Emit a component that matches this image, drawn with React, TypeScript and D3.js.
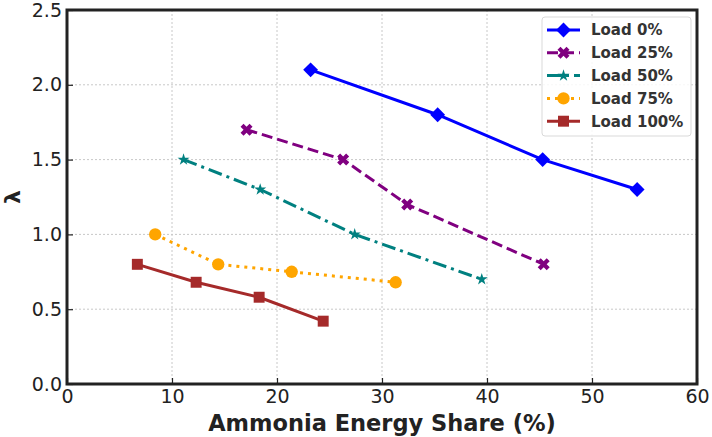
import React, { useEffect, useRef } from "react";
import * as d3 from "d3";

const seriesNames = ["Load 0%", "Load 25%", "Load 50%", "Load 75%", "Load 100%"];
const load0 = [
  { x: 23.2, y: 2.1 },
  { x: 35.3, y: 1.8 },
  { x: 45.3, y: 1.5 },
  { x: 54.3, y: 1.3 },
];
const load25 = [
  { x: 17.1, y: 1.7 },
  { x: 26.3, y: 1.5 },
  { x: 32.4, y: 1.2 },
  { x: 45.4, y: 0.8 },
];
const load50 = [
  { x: 11.1, y: 1.5 },
  { x: 18.4, y: 1.3 },
  { x: 27.4, y: 1.0 },
  { x: 39.5, y: 0.7 },
];
const load75 = [
  { x: 8.4, y: 1.0 },
  { x: 14.4, y: 0.8 },
  { x: 21.4, y: 0.75 },
  { x: 31.3, y: 0.68 },
];
const load100 = [
  { x: 6.7, y: 0.8 },
  { x: 12.3, y: 0.68 },
  { x: 18.3, y: 0.58 },
  { x: 24.4, y: 0.42 },
];
const xTicks = [0, 10, 20, 30, 40, 50, 60];
const yTicks = [0, 0.5, 1.0, 1.5, 2.0, 2.5];

const styles = [
  { color: "#0000ff", dash: null, symbol: d3.symbolSquare, size: 110, rot: 45 },
  { color: "#800080", dash: "11,5", symbol: d3.symbolCross, size: 90, rot: 45 },
  { color: "#008080", dash: "14,5,3,5", symbol: d3.symbolStar, size: 45, rot: 0 },
  { color: "#ffa500", dash: "3,5", symbol: d3.symbolCircle, size: 120, rot: 0 },
  { color: "#a52a2a", dash: null, symbol: d3.symbolSquare, size: 120, rot: 0 },
];

const App = () => {
  const ref = useRef<SVGSVGElement>(null);

  useEffect(() => {
    drawChart();
  }, []);

  const drawChart = () => {
    const svg = d3.select(ref.current);
    svg.selectAll("*").remove();

    const left = 67, right = 697, top = 10, bottom = 384;
    const x = d3.scaleLinear().domain([0, 60]).range([left, right]);
    const y = d3.scaleLinear().domain([0, 2.5]).range([bottom, top]);
    const all = [load0, load25, load50, load75, load100];

    // grid
    const grid = svg.append("g");
    grid.selectAll(".gx").data(xTicks).enter().append("line")
      .attr("x1", (d) => x(d)).attr("x2", (d) => x(d))
      .attr("y1", top).attr("y2", bottom)
      .attr("stroke", "#c8c8c8").attr("stroke-width", 1).attr("stroke-dasharray", "2,2");
    grid.selectAll(".gy").data(yTicks).enter().append("line")
      .attr("y1", (d) => y(d)).attr("y2", (d) => y(d))
      .attr("x1", left).attr("x2", right)
      .attr("stroke", "#c8c8c8").attr("stroke-width", 1).attr("stroke-dasharray", "2,2");

    // series
    const line = d3.line<{ x: number; y: number }>().x((d) => x(d.x)).y((d) => y(d.y));
    all.forEach((data, i) => {
      const s = styles[i];
      const g = svg.append("g");
      g.append("path")
        .attr("d", line(data))
        .attr("fill", "none")
        .attr("stroke", s.color)
        .attr("stroke-width", 3)
        .attr("stroke-dasharray", s.dash);
      g.selectAll("path.m").data(data).enter().append("path")
        .attr("class", "m")
        .attr("d", d3.symbol().type(s.symbol).size(s.size)())
        .attr("fill", s.color)
        .attr("transform", (d) => `translate(${x(d.x)},${y(d.y)}) rotate(${s.rot})`);
    });

    // axes
    const xAxis = d3.axisBottom(x).tickValues(xTicks).tickSizeInner(-6).tickSizeOuter(0).tickPadding(10)
      .tickFormat(d3.format("d"));
    const yAxis = d3.axisLeft(y).tickValues(yTicks).tickSizeInner(-6).tickSizeOuter(0).tickPadding(10)
      .tickFormat(d3.format(".1f"));
    const gx = svg.append("g").attr("transform", `translate(0,${bottom})`).call(xAxis);
    const gy = svg.append("g").attr("transform", `translate(${left},0)`).call(yAxis);
    [gx, gy].forEach((g) => {
      g.select(".domain").remove();
      g.selectAll(".tick line").attr("stroke", "#222").attr("stroke-width", 1.2);
      g.selectAll(".tick text")
        .attr("font-family", "DejaVu Sans")
        .attr("font-size", 19)
        .attr("fill", "#222");
    });
    gx.selectAll(".tick text").attr("dy", "0.85em").attr("y", 3);
    gy.selectAll(".tick text").attr("x", -5);

    // frame
    svg.append("rect")
      .attr("x", left).attr("y", top)
      .attr("width", right - left).attr("height", bottom - top)
      .attr("fill", "none").attr("stroke", "#222").attr("stroke-width", 3);

    // labels
    svg.append("text")
      .attr("x", (left + right) / 2).attr("y", 431)
      .attr("text-anchor", "middle")
      .attr("font-family", "DejaVu Sans").attr("font-weight", "bold").attr("font-size", 22.5)
      .attr("fill", "#222")
      .text("Ammonia Energy Share (%)");
    svg.append("text")
      .attr("transform", `translate(20,${(top + bottom) / 2}) rotate(-90)`)
      .attr("text-anchor", "middle")
      .attr("font-family", "DejaVu Sans").attr("font-weight", "bold").attr("font-size", 22)
      .attr("fill", "#222")
      .text("λ");

    // legend
    const lg = svg.append("g");
    lg.append("rect")
      .attr("x", 542).attr("y", 17).attr("width", 149).attr("height", 119)
      .attr("rx", 3).attr("fill", "white").attr("fill-opacity", 0.85)
      .attr("stroke", "#d9d9d9").attr("stroke-width", 1);
    seriesNames.forEach((name, i) => {
      const s = styles[i];
      const cy = 30 + i * 22.8;
      lg.append("line")
        .attr("x1", 547).attr("x2", 580).attr("y1", cy).attr("y2", cy)
        .attr("stroke", s.color).attr("stroke-width", 3)
        .attr("stroke-dasharray", s.dash);
      lg.append("path")
        .attr("d", d3.symbol().type(s.symbol).size(s.size)())
        .attr("fill", s.color)
        .attr("transform", `translate(563.5,${cy}) rotate(${s.rot})`);
      lg.append("text")
        .attr("x", 591).attr("y", cy).attr("dy", "0.36em")
        .attr("font-family", "DejaVu Sans").attr("font-weight", "bold").attr("font-size", 15)
        .attr("fill", "#333")
        .text(name);
    });
  };

  return (
    <div>
      <svg ref={ref} width="712" height="437" style={{ position: "absolute", left: 0, top: 0 }}></svg>
    </div>
  );
};

export default App;
